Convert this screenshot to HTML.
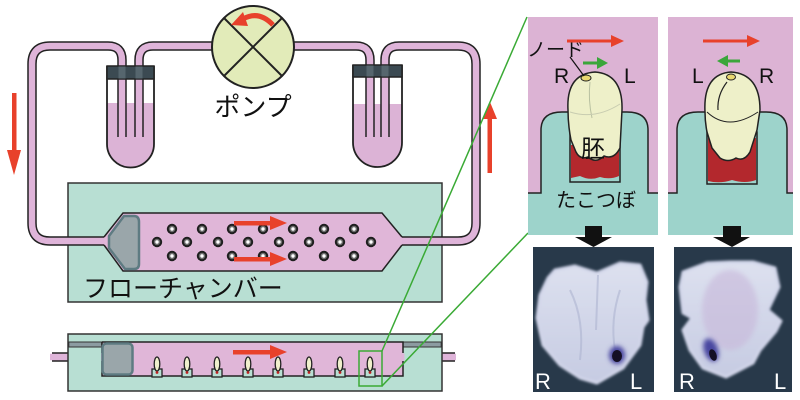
<!DOCTYPE html>
<html><head><meta charset="utf-8"><style>
html,body{margin:0;padding:0;background:#fff;}
svg{display:block;}
.jp{font-family:"Liberation Sans","Noto Sans CJK JP",sans-serif;}
</style></head><body>
<svg width="800" height="400" viewBox="0 0 800 400" xmlns="http://www.w3.org/2000/svg">
<defs>
<filter id="bl" x="-20%" y="-20%" width="140%" height="140%"><feGaussianBlur stdDeviation="1.2"/></filter>
<filter id="bl2" x="-50%" y="-50%" width="200%" height="200%"><feGaussianBlur stdDeviation="2.5"/></filter>
<linearGradient id="emb" x1="0" y1="0" x2="0" y2="1">
<stop offset="0" stop-color="#dde1ef"/><stop offset="1" stop-color="#c6cbe2"/>
</linearGradient>
</defs>
<rect width="800" height="400" fill="#fff"/>

<!-- Flow chamber top view box -->
<rect x="68" y="183" width="374" height="119" fill="#b8dfd3" stroke="#333" stroke-width="1.5"/>

<!-- bottles -->
<path d="M107,66 L107,144 A23.5,23.5 0 0 0 154,144 L154,66 Z" fill="#dcb3d6"/>
<rect x="107" y="66" width="47" height="37" fill="#fff"/>
<path d="M107,66 L107,144 A23.5,23.5 0 0 0 154,144 L154,66" fill="none" stroke="#222" stroke-width="1.8"/>
<path d="M353,65 L353,142.5 A24.5,24.5 0 0 0 402,142.5 L402,65 Z" fill="#dcb3d6"/>
<rect x="353" y="65" width="49" height="39" fill="#fff"/>
<path d="M353,65 L353,142.5 A24.5,24.5 0 0 0 402,142.5 L402,65" fill="none" stroke="#222" stroke-width="1.8"/>

<!-- tubes -->
<g fill="none" stroke-linecap="butt" stroke-linejoin="round">
<g stroke="#222" stroke-width="9.5">
<path d="M122,137 L122,60 Q122,46 108,46 L50,46 Q32,46 32,64 L32,223 Q32,241 50,241 L106,241"/>
<path d="M139,137 L139,60 Q139,46 153,46 L215,46"/>
<path d="M370,137 L370,60 Q370,46 356,46 L292,46"/>
<path d="M385,137 L385,60 Q385,46 399,46 L458,46 Q476,46 476,64 L476,223 Q476,241 458,241 L400,241"/>
<path d="M52,357 L104,357"/>
<path d="M401,357 L455,357"/>
</g>
<g stroke="#dfb4d9" stroke-width="6.5">
<path d="M122,138 L122,60 Q122,46 108,46 L50,46 Q32,46 32,64 L32,223 Q32,241 50,241 L108,241"/>
<path d="M139,138 L139,60 Q139,46 153,46 L215,46"/>
<path d="M370,138 L370,60 Q370,46 356,46 L292,46"/>
<path d="M385,138 L385,60 Q385,46 399,46 L458,46 Q476,46 476,64 L476,223 Q476,241 458,241 L398,241"/>
<path d="M50,357 L106,357"/>
<path d="M399,357 L456,357"/>
</g>
</g>

<!-- caps -->
<rect x="107" y="66" width="47" height="13" fill="#3b4a52" stroke="#222" stroke-width="1.5"/>
<rect x="118.5" y="66.5" width="7" height="12" fill="#56666e"/>
<rect x="135.5" y="66.5" width="7" height="12" fill="#56666e"/>
<rect x="353" y="65" width="49" height="12" fill="#3b4a52" stroke="#222" stroke-width="1.5"/>
<rect x="366.5" y="65.5" width="7" height="11" fill="#56666e"/>
<rect x="381.5" y="65.5" width="7" height="11" fill="#56666e"/>

<!-- pump -->
<circle cx="253" cy="47" r="41" fill="#e2ebb9" stroke="#222" stroke-width="2"/>
<line x1="224" y1="18" x2="282" y2="76" stroke="#222" stroke-width="2"/>
<line x1="282" y1="18" x2="224" y2="76" stroke="#222" stroke-width="2"/>
<path d="M273,25 Q259,10 243,19" fill="none" stroke="#e8412b" stroke-width="5"/>
<polygon points="231,25 243,12 248,26" fill="#e8412b"/>
<text x="253" y="116" class="jp" font-size="26" text-anchor="middle" fill="#111">ポンプ</text>

<!-- side arrows -->
<rect x="12" y="93" width="4.5" height="60" fill="#e8412b"/>
<polygon points="7,150 21,150 14,175" fill="#e8412b"/>
<rect x="487.5" y="116" width="4.5" height="57" fill="#e8412b"/>
<polygon points="483,119 497,119 490,102" fill="#e8412b"/>

<!-- hex channel -->
<polygon points="104,237 123,213 382,213 402,237 402,245 382,271 123,271 104,245" fill="#e0b6d8"/>
<path d="M104,237 L123,213 L382,213 L402,237 M402,245 L382,271 L123,271 L104,245" fill="none" stroke="#222" stroke-width="1.5"/>
<path d="M124,216 L134,216 Q139,216 139,222 L139,264 Q139,269 134,269 L125,269 L109,248 L109,236 Z" fill="#9aa6aa" stroke="#5e7b82" stroke-width="2.5" stroke-linejoin="round"/>

<!-- dots -->
<g fill="#1e1e1e">
<circle cx="172" cy="229" r="5.2"/><circle cx="202" cy="229" r="5.2"/><circle cx="232" cy="229" r="5.2"/><circle cx="263" cy="229" r="5.2"/><circle cx="293" cy="229" r="5.2"/><circle cx="324" cy="229" r="5.2"/><circle cx="354" cy="229" r="5.2"/>
<circle cx="157" cy="242" r="5.2"/><circle cx="187" cy="242" r="5.2"/><circle cx="218" cy="242" r="5.2"/><circle cx="248" cy="242" r="5.2"/><circle cx="279" cy="242" r="5.2"/><circle cx="309" cy="242" r="5.2"/><circle cx="340" cy="242" r="5.2"/><circle cx="371" cy="242" r="5.2"/>
<circle cx="172" cy="256" r="5.2"/><circle cx="202" cy="256" r="5.2"/><circle cx="232" cy="256" r="5.2"/><circle cx="263" cy="256" r="5.2"/><circle cx="293" cy="256" r="5.2"/><circle cx="324" cy="256" r="5.2"/><circle cx="354" cy="256" r="5.2"/>
</g>
<g fill="#6e6e6e">
<circle cx="172" cy="229" r="3.2"/><circle cx="202" cy="229" r="3.2"/><circle cx="232" cy="229" r="3.2"/><circle cx="263" cy="229" r="3.2"/><circle cx="293" cy="229" r="3.2"/><circle cx="324" cy="229" r="3.2"/><circle cx="354" cy="229" r="3.2"/>
<circle cx="157" cy="242" r="3.2"/><circle cx="187" cy="242" r="3.2"/><circle cx="218" cy="242" r="3.2"/><circle cx="248" cy="242" r="3.2"/><circle cx="279" cy="242" r="3.2"/><circle cx="309" cy="242" r="3.2"/><circle cx="340" cy="242" r="3.2"/><circle cx="371" cy="242" r="3.2"/>
<circle cx="172" cy="256" r="3.2"/><circle cx="202" cy="256" r="3.2"/><circle cx="232" cy="256" r="3.2"/><circle cx="263" cy="256" r="3.2"/><circle cx="293" cy="256" r="3.2"/><circle cx="324" cy="256" r="3.2"/><circle cx="354" cy="256" r="3.2"/>
</g>
<g fill="#fff">
<circle cx="172" cy="229" r="1.7"/><circle cx="202" cy="229" r="1.7"/><circle cx="232" cy="229" r="1.7"/><circle cx="263" cy="229" r="1.7"/><circle cx="293" cy="229" r="1.7"/><circle cx="324" cy="229" r="1.7"/><circle cx="354" cy="229" r="1.7"/>
<circle cx="157" cy="242" r="1.7"/><circle cx="187" cy="242" r="1.7"/><circle cx="218" cy="242" r="1.7"/><circle cx="248" cy="242" r="1.7"/><circle cx="279" cy="242" r="1.7"/><circle cx="309" cy="242" r="1.7"/><circle cx="340" cy="242" r="1.7"/><circle cx="371" cy="242" r="1.7"/>
<circle cx="172" cy="256" r="1.7"/><circle cx="202" cy="256" r="1.7"/><circle cx="232" cy="256" r="1.7"/><circle cx="263" cy="256" r="1.7"/><circle cx="293" cy="256" r="1.7"/><circle cx="324" cy="256" r="1.7"/><circle cx="354" cy="256" r="1.7"/>
</g>

<!-- chamber red arrows -->
<rect x="234" y="221" width="38" height="4.5" fill="#e8412b"/>
<polygon points="270,216 287,223 270,230" fill="#e8412b"/>
<rect x="234" y="257" width="38" height="4.5" fill="#e8412b"/>
<polygon points="270,252 287,259 270,266" fill="#e8412b"/>

<text x="83" y="297" class="jp" font-size="25" fill="#111">フローチャンバー</text>

<!-- side view -->
<rect x="68" y="334" width="374" height="57" fill="#b8dfd3" stroke="#333" stroke-width="1.5"/>
<rect x="68.8" y="342" width="33" height="5" fill="#8c9ba1" stroke="#333" stroke-width="1"/>
<rect x="403" y="342" width="38.2" height="5" fill="#8c9ba1" stroke="#333" stroke-width="1"/>
<rect x="102" y="342" width="301" height="34" fill="#e0b6d8"/>
<path d="M102,342 L403,342 L403,353 M403,361 L403,376 L102,376 L102,361 M102,353 L102,342" fill="none" stroke="#222" stroke-width="1.5"/>
<rect x="101" y="353.5" width="3" height="7" fill="#dfb4d9"/>
<rect x="401.5" y="353.5" width="3" height="7" fill="#dfb4d9"/>
<rect x="102.5" y="343.5" width="30" height="31" rx="4" fill="#9aa6aa" stroke="#5e7b82" stroke-width="2.5"/>
<rect x="233" y="350" width="39" height="4.5" fill="#e8412b"/>
<polygon points="270,345 287,352 270,359" fill="#e8412b"/>

<g stroke="#222" stroke-width="1.3">
<g transform="translate(157,0)"><rect x="-5" y="369" width="10" height="8" fill="#b8dfd3" stroke="#222"/><ellipse cx="0" cy="364" rx="2.8" ry="7" fill="#f0f0cc"/><circle cx="0" cy="372.5" r="1.4" fill="#b22" stroke="none"/></g>
<g transform="translate(187,0)"><rect x="-5" y="369" width="10" height="8" fill="#b8dfd3" stroke="#222"/><ellipse cx="0" cy="364" rx="2.8" ry="7" fill="#f0f0cc"/><circle cx="0" cy="372.5" r="1.4" fill="#b22" stroke="none"/></g>
<g transform="translate(217,0)"><rect x="-5" y="369" width="10" height="8" fill="#b8dfd3" stroke="#222"/><ellipse cx="0" cy="364" rx="2.8" ry="7" fill="#f0f0cc"/><circle cx="0" cy="372.5" r="1.4" fill="#b22" stroke="none"/></g>
<g transform="translate(248,0)"><rect x="-5" y="369" width="10" height="8" fill="#b8dfd3" stroke="#222"/><ellipse cx="0" cy="364" rx="2.8" ry="7" fill="#f0f0cc"/><circle cx="0" cy="372.5" r="1.4" fill="#b22" stroke="none"/></g>
<g transform="translate(278,0)"><rect x="-5" y="369" width="10" height="8" fill="#b8dfd3" stroke="#222"/><ellipse cx="0" cy="364" rx="2.8" ry="7" fill="#f0f0cc"/><circle cx="0" cy="372.5" r="1.4" fill="#b22" stroke="none"/></g>
<g transform="translate(309,0)"><rect x="-5" y="369" width="10" height="8" fill="#b8dfd3" stroke="#222"/><ellipse cx="0" cy="364" rx="2.8" ry="7" fill="#f0f0cc"/><circle cx="0" cy="372.5" r="1.4" fill="#b22" stroke="none"/></g>
<g transform="translate(340,0)"><rect x="-5" y="369" width="10" height="8" fill="#b8dfd3" stroke="#222"/><ellipse cx="0" cy="364" rx="2.8" ry="7" fill="#f0f0cc"/><circle cx="0" cy="372.5" r="1.4" fill="#b22" stroke="none"/></g>
<g transform="translate(370,0)"><rect x="-5" y="369" width="10" height="8" fill="#b8dfd3" stroke="#222"/><ellipse cx="0" cy="364" rx="2.8" ry="7" fill="#f0f0cc"/><circle cx="0" cy="372.5" r="1.4" fill="#b22" stroke="none"/></g>
</g>

<!-- green zoom lines -->
<rect x="359" y="351" width="23" height="35" fill="none" stroke="#3aaa35" stroke-width="1.5"/>
<line x1="382" y1="351" x2="527" y2="17" stroke="#3aaa35" stroke-width="1.5"/>
<line x1="382" y1="386" x2="528" y2="233" stroke="#3aaa35" stroke-width="1.5"/>

<!-- Panel 1 -->
<rect x="528" y="17" width="130" height="218" fill="#dcb3d4"/>
<path d="M528,193 L541,193 L541,130 Q541,112 562,112 L627,112 Q648,112 648,130 L648,193 L658,193 L658,235 L528,235 Z" fill="#9dd3cb"/>
<path d="M528,193 L541,193 L541,130 Q541,112 562,112 L627,112 Q648,112 648,130 L648,193 L658,193" fill="none" stroke="#222" stroke-width="1.5"/>
<rect x="570" y="132" width="50" height="50" fill="#9dd3cb" stroke="#222" stroke-width="1.5"/>
<path d="M571,145 L619,145 L619,176 Q610,180 600,177 Q590,181 580,176 L571,178 Z" fill="#b3282d"/>
<path d="M568,110 Q566,74 595,72 Q623,74 622,110 L620,148 Q614,160 604,156 Q596,164 588,157 Q580,160 576,152 L571,140 Q568,125 568,110 Z" fill="#eef0c9" stroke="#222" stroke-width="1.5"/>
<path d="M590,82 Q588,100 592,118" fill="none" stroke="#b8c0a0" stroke-width="1"/>
<path d="M570,112 Q595,120 620,104" fill="none" stroke="#c8ccb0" stroke-width="1"/>
<ellipse cx="586" cy="78" rx="5" ry="3" fill="#e8d870" stroke="#222" stroke-width="1"/>
<text x="593" y="157" class="jp" font-size="24" text-anchor="middle" fill="#111">胚</text>
<text x="556" y="207" class="jp" font-size="20" fill="#111">たこつぼ</text>
<text x="527" y="56" class="jp" font-size="19" fill="#111">ノード</text>
<path d="M570,57 L584,76" stroke="#111" stroke-width="1.2" fill="none"/>
<rect x="567" y="39.5" width="46" height="3" fill="#e8412b"/>
<polygon points="611,35 624,41 611,47" fill="#e8412b"/>
<rect x="583" y="61.5" width="16" height="3" fill="#3aa63a"/>
<polygon points="597,57 608,63 597,69" fill="#3aa63a"/>
<text x="554" y="83" font-family="Liberation Sans, sans-serif" font-size="21" fill="#111">R</text>
<text x="624" y="83" font-family="Liberation Sans, sans-serif" font-size="21" fill="#111">L</text>

<!-- Panel 2 -->
<rect x="668" y="17" width="125" height="218" fill="#dcb3d4"/>
<path d="M668,193 L677,193 L677,130 Q677,112 698,112 L766,112 Q787,112 787,130 L787,193 L793,193 L793,235 L668,235 Z" fill="#9dd3cb"/>
<path d="M668,193 L677,193 L677,130 Q677,112 698,112 L766,112 Q787,112 787,130 L787,193 L793,193" fill="none" stroke="#222" stroke-width="1.5"/>
<rect x="707" y="132" width="50" height="52" fill="#9dd3cb" stroke="#222" stroke-width="1.5"/>
<path d="M708,138 L756,138 L756,180 Q745,184 732,180 Q720,184 708,181 Z" fill="#b3282d"/>
<path d="M705,112 Q703,74 731,72 Q760,74 760,110 L757,130 L750,152 Q744,162 736,158 Q728,163 720,158 L712,148 L707,132 Q705,122 705,112 Z" fill="#eef0c9" stroke="#222" stroke-width="1.5"/>
<path d="M727,82 Q717,95 718,110" fill="none" stroke="#222" stroke-width="1.2"/>
<path d="M707,112 Q728,132 758,112" fill="none" stroke="#222" stroke-width="1"/>
<ellipse cx="731" cy="77" rx="4.5" ry="3" fill="#e8d870" stroke="#222" stroke-width="1"/>
<rect x="703" y="39.5" width="46" height="3" fill="#e8412b"/>
<polygon points="747,35 760,41 747,47" fill="#e8412b"/>
<rect x="727" y="59.5" width="13" height="3" fill="#3aa63a"/>
<polygon points="728,55 717,61 728,67" fill="#3aa63a"/>
<text x="692" y="83" font-family="Liberation Sans, sans-serif" font-size="21" fill="#111">L</text>
<text x="759" y="83" font-family="Liberation Sans, sans-serif" font-size="21" fill="#111">R</text>

<!-- black arrows -->
<rect x="585" y="226" width="17" height="12" fill="#111"/>
<polygon points="575,237 612,237 593.5,247" fill="#111"/>
<rect x="723" y="226" width="18" height="12" fill="#111"/>
<polygon points="713,237 750,237 732,247" fill="#111"/>

<!-- photos -->
<rect x="533" y="247" width="121" height="145" fill="#28394a"/>
<polygon points="555,270 575,266 597,273 620,263 640,265 647,282 645,300 648,320 643,327 640,345 623,368 597,383 580,378 560,365 543,345 537,318 540,295 548,278" fill="url(#emb)" stroke="#d2d6ea" stroke-width="3" stroke-linejoin="round" filter="url(#bl)"/>
<path d="M598,275 L596,330 M570,290 Q585,320 580,360 M620,290 Q610,320 615,350" stroke="#aeb4d0" stroke-width="2" fill="none" opacity="0.6"/>
<ellipse cx="617" cy="355" rx="8" ry="9" fill="#4a46a0" filter="url(#bl2)"/>
<ellipse cx="617" cy="356" rx="5" ry="6" fill="#140f25"/>
<text x="535" y="389" font-family="Liberation Sans, sans-serif" font-size="22" fill="#fff">R</text>
<text x="630" y="389" font-family="Liberation Sans, sans-serif" font-size="22" fill="#fff">L</text>

<rect x="674" y="247" width="118" height="145" fill="#28394a"/>
<polygon points="683,272 707,263 730,262 753,262 775,268 779,287 768,310 781,321 776,331 760,350 753,363 726,377 703,368 690,350 683,330 692,318 683,313 680,287" fill="url(#emb)" stroke="#d2d6ea" stroke-width="3" stroke-linejoin="round" filter="url(#bl)"/>
<ellipse cx="730" cy="310" rx="28" ry="40" fill="#c8b8da" opacity="0.6" filter="url(#bl2)"/>
<ellipse cx="711" cy="350" rx="7" ry="12" fill="#4a46a0" transform="rotate(-20 711 350)" filter="url(#bl2)"/>
<ellipse cx="713" cy="355" rx="3.5" ry="6" fill="#140f25" transform="rotate(-20 713 355)"/>
<text x="679" y="389" font-family="Liberation Sans, sans-serif" font-size="22" fill="#fff">R</text>
<text x="774" y="389" font-family="Liberation Sans, sans-serif" font-size="22" fill="#fff">L</text>
</svg>
</body></html>
